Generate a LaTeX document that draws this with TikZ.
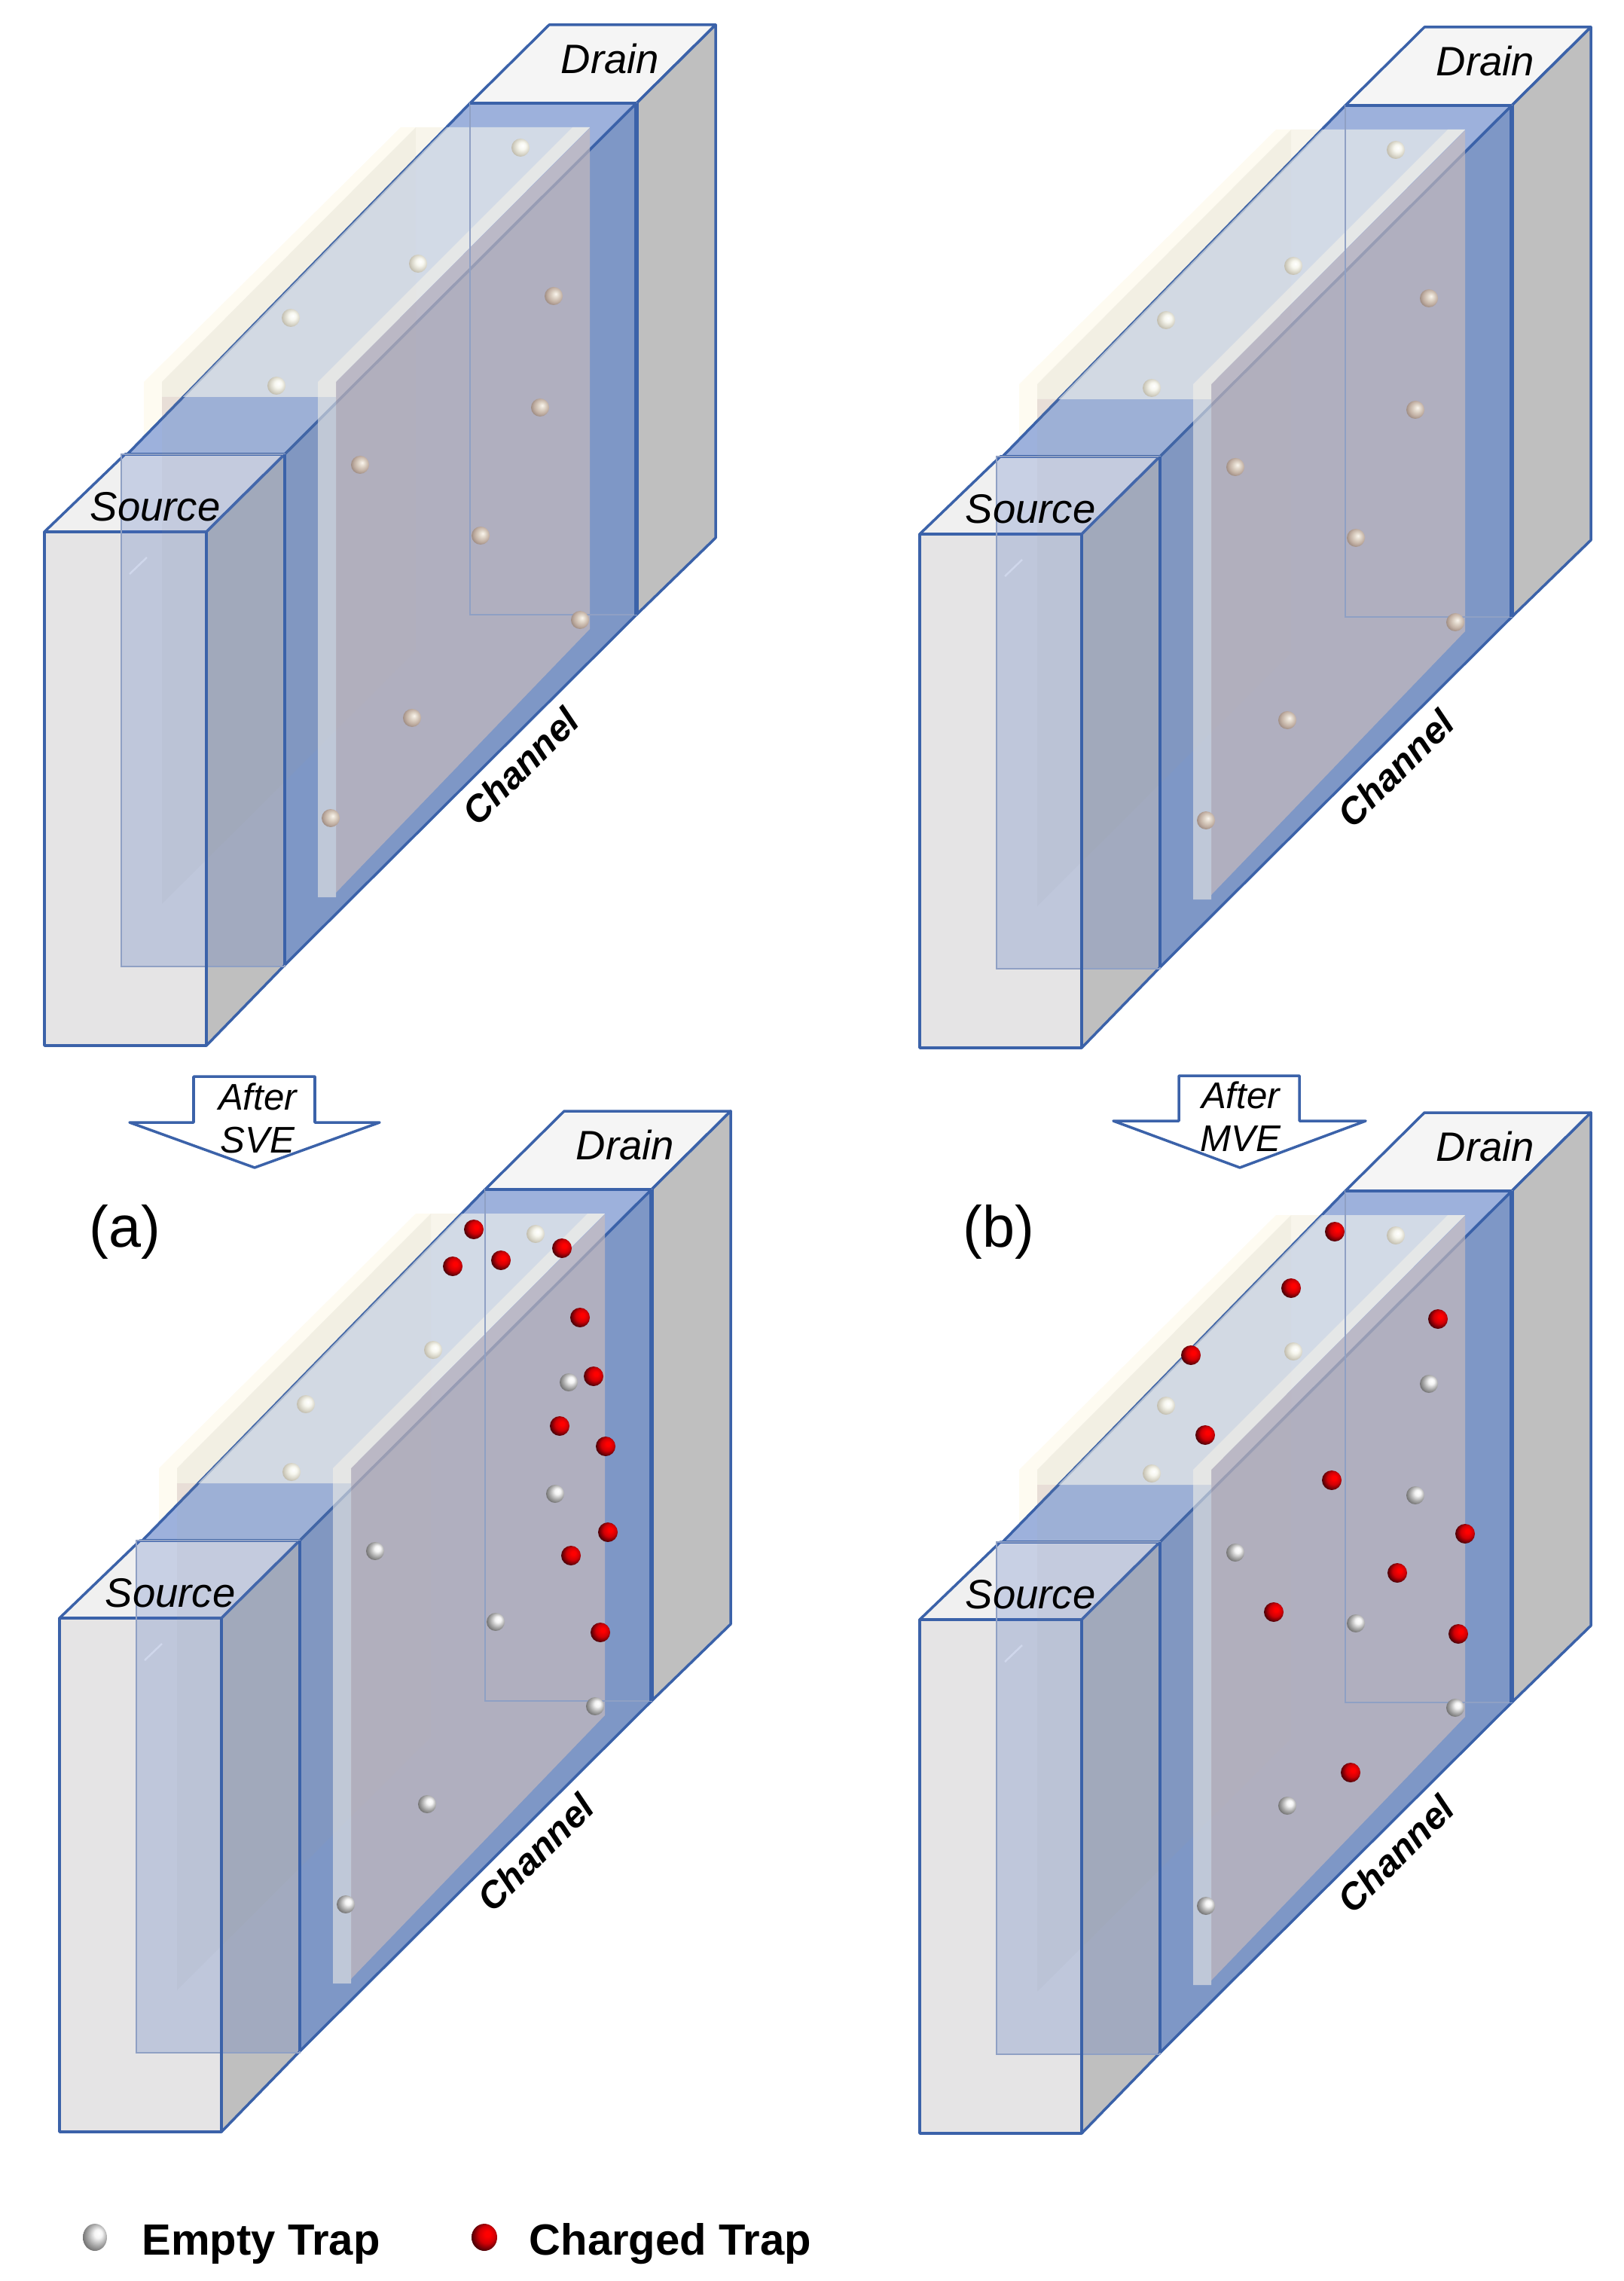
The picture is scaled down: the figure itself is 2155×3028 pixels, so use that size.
\documentclass[tikz,border=0pt]{standalone}
\usepackage{fontspec}
\setmainfont{Liberation Sans}
\definecolor{edgeblue}{HTML}{3B62A9}
\definecolor{paleblue}{HTML}{8FA0C4}
\definecolor{topblue}{HTML}{9DB1DC}
\definecolor{sideblue}{HTML}{7E97C6}
\definecolor{facegray}{HTML}{BFBFBF}
\definecolor{frontgray}{HTML}{E5E4E5}
\definecolor{topgray}{HTML}{F5F5F5}
\definecolor{overlayblue}{RGB}{73,107,191}
\definecolor{slabwhite}{RGB}{250,248,238}
\definecolor{stripwhite}{RGB}{245,242,232}
\definecolor{panelrose}{RGB}{206,190,188}
\definecolor{backplate}{RGB}{170,165,135}
\definecolor{beigeouter}{HTML}{FEFBF1}
\definecolor{beigeinner}{HTML}{F8F5EB}
\definecolor{beigepink}{HTML}{EDE3DE}
\pgfdeclareradialshading{chargedball}{\pgfpoint{7bp}{7bp}}{rgb(0bp)=(1,0,0); rgb(5bp)=(1,0,0); rgb(16bp)=(.82,0,.02); rgb(28bp)=(.3,0,.03); rgb(50bp)=(.3,0,.03)}
\pgfdeclareradialshading{greyball}{\pgfpoint{8bp}{8bp}}{rgb(0bp)=(1,1,1); rgb(8bp)=(.96,.96,.96); rgb(20bp)=(.66,.66,.66); rgb(33bp)=(.36,.36,.36); rgb(50bp)=(.36,.36,.36)}
\pgfdeclareradialshading{slabball}{\pgfpoint{6bp}{6bp}}{rgb(0bp)=(1,1,1); rgb(10bp)=(.97,.97,.94); rgb(20bp)=(.86,.85,.8); rgb(31bp)=(.72,.7,.64); rgb(50bp)=(.72,.7,.64)}
\pgfdeclareradialshading{roseball}{\pgfpoint{6bp}{6bp}}{rgb(0bp)=(.98,.96,.93); rgb(9bp)=(.88,.84,.79); rgb(20bp)=(.76,.69,.64); rgb(31bp)=(.58,.51,.48); rgb(50bp)=(.58,.51,.48)}
\tikzset{
  box/.style={draw=edgeblue, line width=1pt, line join=round},
  partname/.style={font=\fontsize{15.5}{18}\itshape\selectfont, inner sep=0pt},
  stepname/.style={font=\fontsize{14}{16.2}\itshape\selectfont, inner sep=0pt, align=center},
  panelname/.style={font=\fontsize{22}{26}\selectfont, inner sep=0pt},
  legendname/.style={font=\fontsize{16.5}{20}\bfseries\selectfont, inner sep=0pt, anchor=base west},
  chargedtrap/.style={shading=chargedball},
}
% one device, drawn in reference pixels
\newcommand{\device}[1]{
  % far end
  \fill[beigeouter] (191,507) -- (532,169) -- (552,169) -- (215,507) -- (215,570) -- (191,590) -- cycle;
  \fill[beigeinner] (215,507) -- (552,169) -- (600,169) -- (243,527) -- (215,527) -- cycle;
  \fill[beigepink] (215,527) -- (243,527) -- (215,556) -- cycle;
  \draw[box, fill=topgray] (729,33) -- (950,33) -- (845,137) -- (624,137) -- cycle;
  \draw[box, fill=facegray] (950,33) -- (950,714) -- (845,816) -- (845,137) -- cycle;
  % channel
  \draw[box, fill=topblue] (169,603) -- (624,137) -- (845,137) -- (378,603) -- cycle;
  \draw[box, fill=sideblue] (378,603) -- (845,137) -- (845,816) -- (378,1281) -- cycle;
  % source
  \draw[box, fill=topgray!70!frontgray] (166,603) -- (378,603) -- (274,706) -- (59,706) -- cycle;
  \draw[box, fill=frontgray] (59,706) rectangle (274,1388);
  \draw[box, fill=facegray] (274,706) -- (378,603) -- (378,1281) -- (274,1388) -- cycle;
  \draw[white!80!frontgray, line width=0.7pt] (172,762) -- (195,740);
  % back plate and oxide
  \fill[backplate, fill opacity=0.07] (215,507) -- (552,169) -- (552,864) -- (215,1200) -- cycle;
  \fill[slabwhite, fill opacity=0.58] (243,527) -- (593,169) -- (783,169) -- (446,507) -- (446,527) -- cycle;
  \fill[panelrose, fill opacity=0.63] (446,507) -- (783,170) -- (783,835) -- (446,1185) -- cycle;
  \fill[stripwhite, fill opacity=0.55] (422,507) -- (760,169) -- (783,169) -- (446,507) -- (446,1191) -- (422,1191) -- cycle;
  % end plates
  \fill[overlayblue, fill opacity=0.24] (161,603) rectangle (378,1283);
  \draw[paleblue, line width=0.7pt] (161,603) rectangle (378,1283);
  \draw[paleblue, line width=0.7pt] (624,137) rectangle (845,816);
  \draw[edgeblue, line width=1.6pt] (845,137) -- (845,816);
  \draw[edgeblue, line width=1pt] (378,1281) -- (378,603) (274,706) -- (274,1388);
  \draw[edgeblue, line width=1pt] (624,137) -- (845,137);
  \node (#1-drain) [partname] at (810,78) {Drain};
  \node (#1-source) [partname] at (206,673) {Source};
  \node (#1-channel) [partname, font=\fontsize{14}{18}\bfseries\itshape\selectfont, rotate=45] at (691,1017) {Channel};
}
\newcommand{\emptytraps}[1]{
  \foreach \x/\y in {691/196, 555/350, 386/422, 367/512}
    \shade[shading=slabball] (\x,\y) circle (12);
  \foreach \x/\y in {735/393, 717/541, 478/617, 638/711, 770/823, 547/953, 439/1086}
    \shade[shading=#1] (\x,\y) circle (12);
}
\begin{document}
\begin{tikzpicture}[x=0.01cm, y=-0.01cm]
  \useasboundingbox (0,0) rectangle (2155,3028);
  \begin{scope}
    \device{sveTop}
    \emptytraps{roseball}
  \end{scope}
  \begin{scope}[shift={(1162,3)}]
    \device{mveTop}
    \emptytraps{roseball}
  \end{scope}
  \begin{scope}[shift={(20,1442)}]
    \device{sveEnd}
    \emptytraps{greyball}
  \end{scope}
  \begin{scope}[shift={(1162,1444)}]
    \device{mveEnd}
    \emptytraps{greyball}
  \end{scope}
  % charged traps
  \foreach \x/\y in {629/1632, 601/1681, 665/1673, 746/1657, 770/1749, 788/1827, 743/1893, 804/1920, 807/2034, 758/2065, 797/2167}
    \shade[chargedtrap] (\x,\y) circle (13);
  \foreach \x/\y in {1772/1635, 1714/1710, 1909/1751, 1581/1799, 1600/1905, 1768/1965, 1945/2036, 1855/2088, 1691/2140, 1936/2169, 1793/2353}
    \shade[chargedtrap] (\x,\y) circle (13);
  % arrows
  \draw[box, fill=white] (257,1429) -- (418,1429) -- (418,1490) -- (504,1490) -- (338,1550) -- (172,1490) -- (257,1490) -- cycle;
  \node (sveStep) [stepname] at (342,1484) {After\\SVE};
  \draw[box, fill=white] (1565,1428) -- (1725,1428) -- (1725,1488) -- (1813,1488) -- (1646,1550) -- (1478,1488) -- (1565,1488) -- cycle;
  \node (mveStep) [stepname] at (1647,1482) {After\\MVE};
  \node (panelA) [panelname] at (166,1635) {(a)};
  \node (panelB) [panelname] at (1326,1635) {(b)};
  % legend
  \shade[shading=greyball] (126,2970) ellipse (16 and 18);
  \node (emptyName) [legendname] at (188,2993) {Empty Trap};
  \shade[chargedtrap] (643,2970) ellipse (17 and 18);
  \node (chargedName) [legendname] at (702,2993) {Charged Trap};
\end{tikzpicture}
\end{document}
